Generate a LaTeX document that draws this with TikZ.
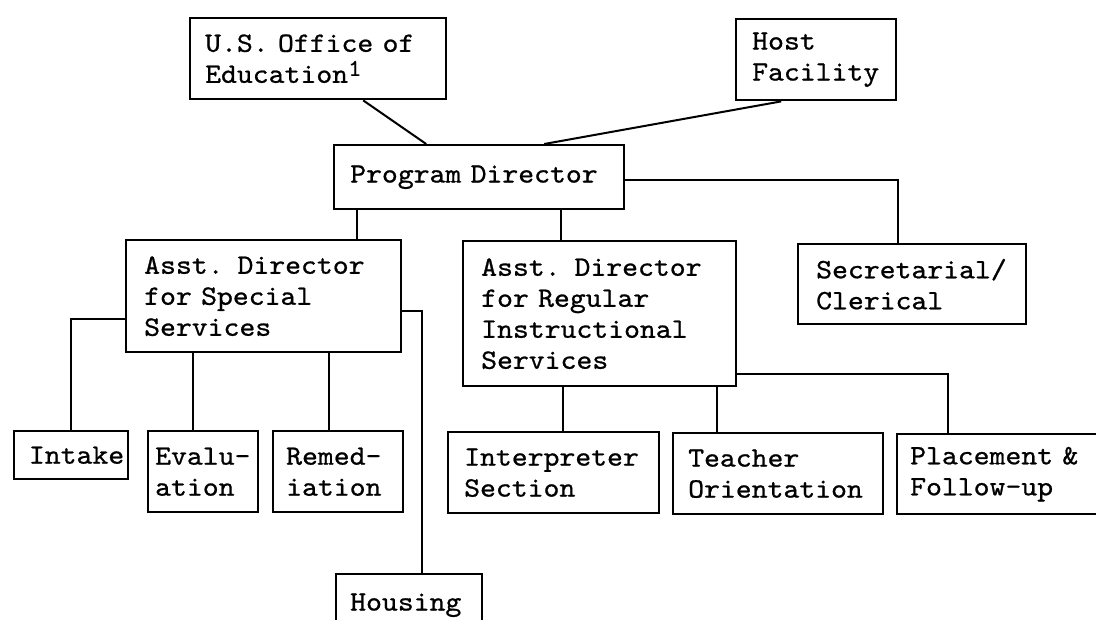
\documentclass[tikz,border=0pt]{standalone}
\usepackage{fontspec}
\setmonofont{lmmono10-regular.otf}[FakeStretch=1.08,FakeBold=0.8,WordSpace={1.3,0,0}]
\begin{document}
\begin{tikzpicture}[x=1pt,y=-1pt,
    unit/.style={draw, line width=1.2pt, anchor=north west, align=left,
      inner ysep=0pt, font=\ttfamily\fontsize{14}{15.5}\selectfont},
    link/.style={line width=1pt}]
  \useasboundingbox (0,0) rectangle (548,310);
  % top row
  \node[unit, minimum width=128pt, minimum height=40.5pt, text width=113pt, inner xsep=7.5pt]
    (usoe) at (94.5,8.5) {U.S. Office of\\Education\raisebox{3.5pt}{\fontsize{12}{12}\selectfont 1}};
  \node[unit, minimum width=80pt, minimum height=40.5pt, text width=64pt, inner xsep=8pt]
    (host) at (367.5,9) {Host\\Facility};
  \node[unit, minimum width=145pt, minimum height=32pt, text width=129pt, inner xsep=8pt]
    (pd) at (166.5,72) {Program Director};
  % second row
  \node[unit, minimum width=137.5pt, minimum height=56pt, text width=119.5pt, inner xsep=9pt]
    (adss) at (62.5,119.5) {Asst. Director\\for Special\\Services};
  \node[unit, minimum width=136.5pt, minimum height=72.5pt, text width=118.5pt, inner xsep=9pt]
    (adris) at (231,120) {Asst. Director\\for Regular\\Instructional\\Services};
  \node[unit, minimum width=114pt, minimum height=40pt, text width=96pt, inner xsep=9pt]
    (sec) at (398.5,121.5) {Secretarial/\\Clerical};
  % third row
  \node[unit, align=right, minimum width=57pt, minimum height=24pt, text width=53pt, inner xsep=2pt]
    (intake) at (6.5,215) {Intake};
  \node[unit, minimum width=55pt, minimum height=40.5pt, text width=48pt, inner xsep=3.5pt]
    (eval) at (73.5,215) {Evalu-\\ation};
  \node[unit, minimum width=65pt, minimum height=40.5pt, text width=52pt, inner xsep=6.5pt]
    (remed) at (136,215) {Remed-\\iation};
  \node[unit, minimum width=105.5pt, minimum height=40.5pt, text width=89.5pt, inner xsep=8pt]
    (interp) at (223.5,215.5) {Interpreter\\Section};
  \node[unit, minimum width=105pt, minimum height=40.5pt, text width=90pt, inner xsep=7.5pt]
    (teach) at (336,216) {Teacher\\Orientation};
  \node[unit, minimum width=104pt, minimum height=40pt, text width=91pt, inner xsep=6.5pt]
    (place) at (448,216.5) {Placement \&\\Follow-up};
  \node[unit, minimum width=73pt, minimum height=31pt, text width=59pt, inner xsep=7pt]
    (housing) at (167.5,286.5) {Housing};
  % connectors
  \draw[link] ([xshift=22.5pt]usoe.south) -- ([xshift=-26.5pt]pd.north);
  \draw[link] ([xshift=-17.5pt]host.south) -- ([xshift=32.5pt]pd.north);
  \draw[link] ([yshift=-1.5pt]pd.east) -| ([xshift=-7pt]sec.north);
  \draw[link] ([xshift=-61pt]pd.south) -- ([xshift=46.75pt]adss.north);
  \draw[link] ([xshift=41pt]pd.south) -- ([xshift=-19.25pt]adris.north);
  \draw[link] ([yshift=-11.5pt]adss.west) -| (intake.north);
  \draw[link] ([xshift=-35.25pt]adss.south) -- ([xshift=-5pt]eval.north);
  \draw[link] ([xshift=32.75pt]adss.south) -- ([xshift=-4.5pt]remed.north);
  \draw[link] ([yshift=-7.5pt]adss.east) -| ([xshift=6.5pt]housing.north);
  \draw[link] ([xshift=-18.25pt]adris.south) -- ([xshift=4.75pt]interp.north);
  \draw[link] ([xshift=58.75pt]adris.south) -- ([xshift=-30.5pt]teach.north);
  \draw[link] ([yshift=-30.25pt]adris.east) -| ([xshift=-26.5pt]place.north);
\end{tikzpicture}
\end{document}
